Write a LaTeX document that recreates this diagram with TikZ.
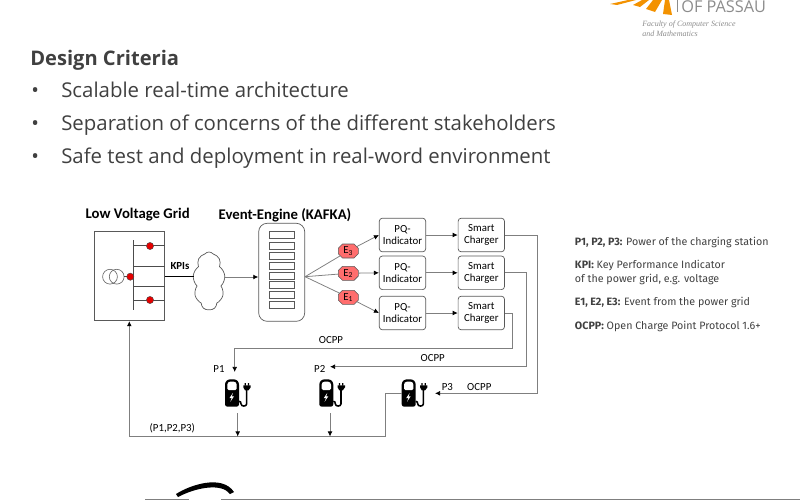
\documentclass[tikz,border=0pt]{standalone}
\usepackage{fontspec}
\setmainfont{Carlito}
\newfontfamily\slidefont{Open Sans}
\newfontfamily\legendfont{Fira Sans}
\newfontfamily\logofont{Liberation Serif}
\usetikzlibrary{arrows.meta,shapes.misc,shapes.symbols}
\definecolor{slidegray}{HTML}{404040}
\definecolor{wiregray}{HTML}{7F7F7F}
\definecolor{eventred}{HTML}{FF6D6D}
\definecolor{logoorange}{HTML}{F39200}
\definecolor{logogray}{HTML}{8C8C8C}
\tikzset{
    pics/charger/.style={code={
        \fill[black,rounded corners=1.6pt] (0,27.3) -- (0,3) -- (3,0) -- (11,0) -- (14,3) -- (14,27.3) -- cycle;
        \fill[white,rounded corners=1pt] (2.3,10.7) -- (2.3,4) -- (4,2.3) -- (10,2.3) -- (11.7,4) -- (11.7,10.7) -- cycle;
        \fill[white] (8,13.5) -- (4.5,18.8) -- (6.7,18.8) -- (5.3,22.5) -- (9,17) -- (6.9,17) -- cycle;
        \draw[black,line width=1.1pt] (14,22) .. controls (15.5,22) and (16,23) .. (16,24.5)
            .. controls (16,27.5) and (21.7,27.5) .. (21.7,24.5) -- (21.7,10);
        \fill[black] (18.3,6) -- (25.7,6) -- (25.7,8) -- (23.5,11) -- (20,11) -- (18.3,8) -- cycle;
        \fill[black] (19.6,3.8) rectangle (20.9,6.2) (22.8,3.8) rectangle (24.1,6.2);
    }}
}
\begin{document}
\begin{tikzpicture}[x=0.025cm,y=-0.025cm,>={Latex[length=3.6pt,width=3.4pt,black]},font=\fontsize{7.7}{8.4}\selectfont]
    \tikzstyle{wire}=[draw=wiregray,line width=0.55pt]
    \tikzstyle{grid line}=[draw=black!70,line width=0.5pt]
    \tikzstyle{rbox}=[draw=black!65,line width=0.5pt,rounded corners=2.2pt,align=center,inner sep=0pt,minimum width=1.16cm,minimum height=0.84cm]
    \tikzstyle{slot}=[draw=black!65,line width=0.45pt,inner sep=0pt,minimum width=0.635cm,minimum height=0.175cm]
    \tikzstyle{event}=[chamfered rectangle,chamfered rectangle xsep=1.5pt,chamfered rectangle ysep=1.5pt,draw=black!65,fill=eventred,line width=0.4pt,inner sep=0pt,minimum width=0.5cm,minimum height=0.35cm]
    \tikzstyle{dot}=[circle,draw=black!70,fill=red!90!black,line width=0.3pt,inner sep=0pt,minimum size=0.18cm]
    \tikzstyle{head}=[font=\fontsize{10.5}{12}\selectfont\bfseries]
    \tikzstyle{bullet line}=[anchor=base west,font=\fontsize{14.5}{18}\slidefont,text=slidegray,inner sep=0pt]
    \tikzstyle{legend}=[anchor=west,font=\fontsize{7.6}{9.7}\legendfont,text=slidegray,inner sep=0pt,align=left]
    \useasboundingbox (0,0) rectangle (800,500);
    % Slide text
    \node[bullet line,font=\fontsize{14.3}{18}\slidefont\bfseries] (title) at (30,65) {Design Criteria};
    \foreach \y / \txt in {97/Scalable real-time architecture, 130/Separation of concerns of the different stakeholders, 163/Safe test and deployment in real-word environment} {
        \node[bullet line] (bullet-\y) at (31,\y) {•};
        \node[bullet line] (text-\y) at (61,\y) {\txt};
    }
    % Logo cut by the page
    \fill[logoorange] (610,4) -- (628,0) -- (636,0) -- (617,5) -- cycle;
    \fill[logoorange] (633,5) -- (642,0) -- (649,0) -- (640,7) -- cycle;
    \fill[logoorange] (646,9) -- (653,0) -- (662,0) -- (655,12) -- cycle;
    \fill[logoorange] (663,14) -- (665,0) -- (669,0) -- (672,15) -- cycle;
    \draw[logogray,line width=0.7pt] (677,0) -- (677,12);
    \node[anchor=base west,inner sep=0pt,font=\fontsize{11.6}{14}\slidefont,text=logogray] (logo) at (681,12) {OF PASSAU};
    \node[anchor=west,inner sep=0pt,align=left,font=\fontsize{5.7}{6.9}\logofont\itshape,text=logogray] (faculty) at (642,28.5) {Faculty of Computer Science\\and Mathematics};
    \fill[black] (176,494) .. controls (190,485) and (222,474) .. (234,492) -- (230,494) .. controls (222,483) and (197,487) .. (178,497) -- cycle;
    \draw[wiregray,line width=0.8pt] (145,499.3) -- (189,499.3) (221,499.3) -- (800,499.3);
    % Low voltage grid
    \node[head] (grid title) at (137.7,215) {Low Voltage Grid};
    \node[draw=black!65,line width=0.6pt,inner sep=0pt,minimum width=1.74cm,minimum height=2.225cm] (grid) at (129.35,276.2) {};
    \coordinate (bus-top) at (133.5,240);
    \coordinate (bus-bottom) at (133.5,310);
    \draw[grid line] (bus-top) -- (bus-bottom);
    \foreach \y in {245.7,266.3,286.3,300}
        \draw[grid line] (133.5,\y) -- (grid.east |- 0,\y);
    \node[circle,draw=black!60,line width=0.45pt,inner sep=0pt,minimum size=0.37cm] (T-1) at (110,276.7) {};
    \node[circle,draw=black!60,line width=0.45pt,inner sep=0pt,minimum size=0.37cm] (T-2) at (116.7,276.7) {};
    \draw[grid line] (T-2.east) -- (133.5,276.7);
    \node[dot] (D-1) at (150,246) {};
    \node[dot] (D-2) at (130.3,276.7) {};
    \node[dot] (D-3) at (150,300) {};
    % Cloud and event engine
    \node[cloud,draw=black!65,line width=0.5pt,cloud puffs=9,cloud puff arc=100,aspect=0.55,inner sep=0pt,minimum width=0.8cm,minimum height=1.45cm] (cloud) at (209,281) {};
    \node[rbox,rounded corners=6pt,minimum width=1.15cm,minimum height=2.45cm] (engine) at (281.7,272.3) {};
    \foreach \i / \y in {1/235.3,2/245.7,3/256,4/266.3,5/276,6/285.3,7/295.3,8/304.7}
        \node[slot] (slot-\i) at (282,\y) {};
    \draw[line width=0.9pt] (grid.east |- 0,276.7) -- (cloud.west |- 0,276.7);
    \node[inner sep=0pt] (kpis) at (180,266) {\textbf{KPIs}};
    \draw[wire,->] (cloud.east |- 0,277) -- (engine.west |- 0,277);
    \node[head] (engine title) at (285,215) {Event-Engine (KAFKA)};
    % PQ indicators, chargers and events
    \foreach \i / \y in {1/235,2/272.8,3/313} {
        \node[rbox] (PQ-\i) at (402.5,\y) {PQ-\\Indicator};
        \node[rbox] (SC-\i) at (481.3,\y) {Smart\\Charger};
        \draw[wire,->] (PQ-\i) -- (SC-\i);
    }
    \foreach \i / \y / \e in {1/251/3,2/273.3/2,3/297.3/1} {
        \node[event] (E-\i) at (348.3,\y) {E\textsubscript{\e}};
        \draw[wire] (engine.east |- 0,276.7) -- (E-\i);
        \draw[wire,->] (E-\i) -- (PQ-\i.west);
    }
    % Charging stations
    \coordinate (in-1) at (234.7,372);
    \coordinate (in-2) at (330,366.7);
    \coordinate (in-3) at (435,393.3);
    \foreach \i / \x in {1/225,2/319.3,3/401.7} {
        \pic at (\x,379.3) {charger};
        \node[minimum width=0.64cm,minimum height=0.68cm,inner sep=0pt,anchor=north west] (P-\i) at (\x,379.3) {};
    }
    \draw[wire,->] (SC-3.east) -| (512,348.7) -| (in-1);
    \draw[wire,->] (SC-2.east) -| (526.5,366.7) -- (in-2);
    \draw[wire,->] (SC-1.east) -| (537.3,393.3) -- (in-3);
    \node[inner sep=0pt] (ocpp-1) at (331,340) {OCPP};
    \node[inner sep=0pt] (ocpp-2) at (432.7,358.3) {OCPP};
    \node[inner sep=0pt] (ocpp-3) at (479.3,386.7) {OCPP};
    \node[inner sep=0pt] (label-1) at (219,369.3) {P1};
    \node[inner sep=0pt] (label-2) at (319.7,369.3) {P2};
    \node[inner sep=0pt] (label-3) at (447.3,386.7) {P3};
    % Feedback to the grid
    \coordinate (back-1) at (237.7,436.5);
    \coordinate (back-2) at (330,436.5);
    \draw[wire,->] (P-3.west |- 0,393.3) -- (385.3,393.3) |- (129.3,436.5) -- (grid.south -| 129.3,0);
    \draw[wire,->] (237.7,413) -- (back-1);
    \draw[wire,->] (330,413) -- (back-2);
    \node[inner sep=0pt] (label-sum) at (172.3,428.3) {(P1,P2,P3)};
    % Legend
    \node[legend] (leg-1) at (574.7,242.3) {\textbf{P1, P2, P3:} Power of the charging station};
    \node[legend] (leg-2) at (574.7,272.5) {\textbf{KPI:} Key Performance Indicator\\of the power grid, e.g. voltage};
    \node[legend] (leg-3) at (574.7,302.3) {\textbf{E1, E2, E3:} Event from the power grid};
    \node[legend] (leg-4) at (574.7,326.7) {\textbf{OCPP:} Open Charge Point Protocol 1.6+};
\end{tikzpicture}
\end{document}
